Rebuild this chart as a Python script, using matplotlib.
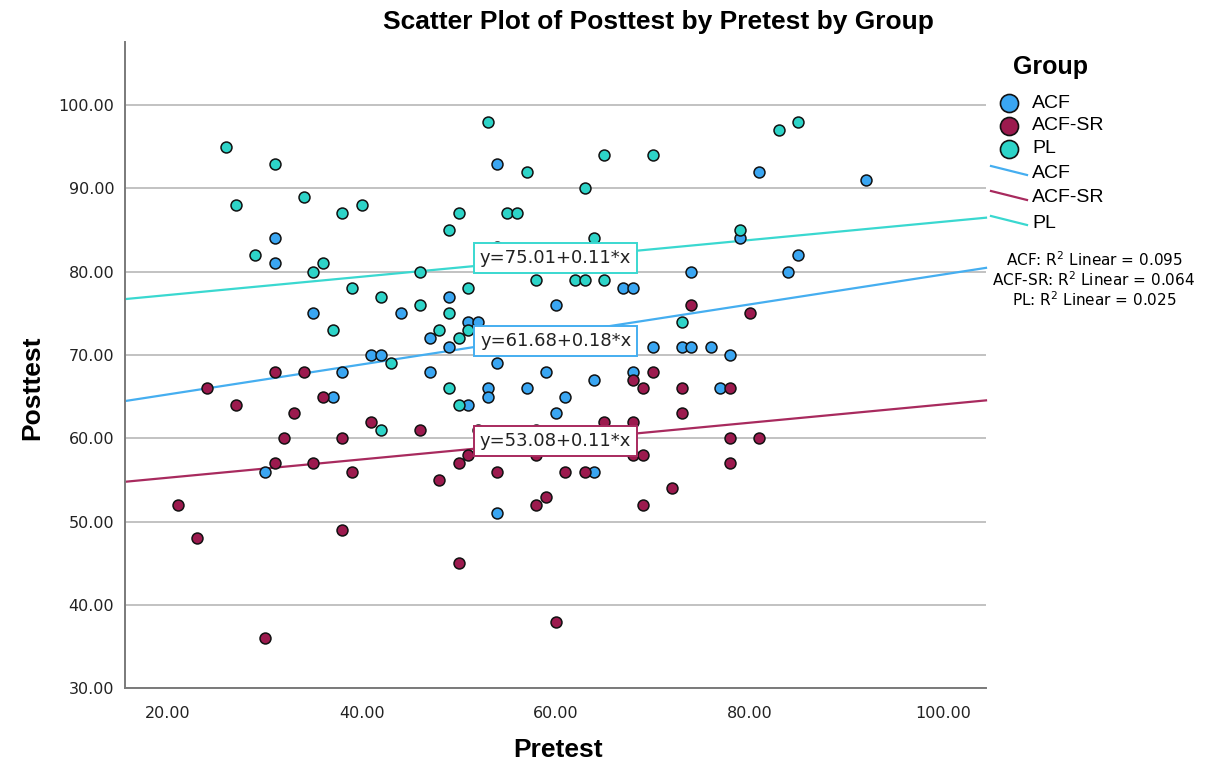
import matplotlib
matplotlib.use('Agg')
import matplotlib.pyplot as plt
from matplotlib.lines import Line2D
from matplotlib.ticker import FormatStrFormatter
import numpy as np

W, H = 1217, 765

# ── Data ───────────────────────────────────────────────────────
groups = ['ACF', 'ACF-SR', 'PL']

acf_pre = [31, 31, 54, 54, 67, 68, 74, 49, 60, 81, 92, 79, 85, 84, 35, 44, 41, 42, 38, 37,
           30, 47, 49, 51, 52, 57, 70, 73, 74, 76, 78, 77, 54, 47, 59, 68, 64, 53, 53, 57,
           61, 51, 60, 64, 54]
acf_post = [84, 81, 93, 83, 78, 78, 80, 77, 76, 92, 91, 84, 82, 80, 75, 75, 70, 70, 68, 65,
            56, 72, 71, 74, 74, 71, 71, 71, 71, 71, 70, 66, 69, 68, 68, 68, 67, 66, 65, 66,
            65, 64, 63, 56, 51]

acfsr_pre = [74, 31, 34, 24, 36, 27, 33, 41, 46, 32, 38, 31, 35, 39, 21, 80, 70, 68, 69, 73,
             73, 65, 68, 52, 58, 51, 50, 58, 68, 69, 54, 61, 63, 48, 72, 59, 58, 69, 78, 78,
             81, 78, 23, 38, 30, 50, 60]
acfsr_post = [76, 68, 68, 66, 65, 64, 63, 62, 61, 60, 60, 57, 57, 56, 52, 75, 68, 67, 66, 66,
              63, 62, 62, 61, 61, 58, 57, 58, 58, 58, 56, 56, 56, 55, 54, 53, 52, 52, 66, 60,
              60, 57, 48, 49, 36, 45, 38]

pl_pre = [26, 31, 27, 34, 38, 40, 29, 35, 36, 46, 39, 42, 46, 53, 57, 65, 70, 63, 50, 49,
          55, 56, 64, 58, 62, 63, 65, 51, 83, 85, 79, 37, 43, 42, 49, 48, 50, 51, 73, 49, 50]
pl_post = [95, 93, 88, 89, 87, 88, 82, 80, 81, 80, 78, 77, 76, 98, 92, 94, 94, 90, 87, 85,
           87, 87, 84, 79, 79, 79, 79, 78, 97, 98, 85, 73, 69, 61, 75, 73, 72, 73, 74, 66, 64]

fit_intercepts = [61.68, 53.08, 75.01]
fit_slopes = [0.18, 0.11, 0.11]
r_squared = [0.095, 0.064, 0.025]

# ── Styling ────────────────────────────────────────────────────
DOT_CLR = ['#3AA6F2', '#9C1A4E', '#2DD4C8']
LINE_CLR = ['#45AEF0', '#A82A5E', '#3AD8D0']
GRID_CLR = '#C2C2C2'
SPINE_CLR = '#7A7A7A'
TXT_CLR = '#222222'
SANS = 'Liberation Sans'


def fxy(px, py):
    return px / W, 1 - py / H


fig = plt.figure(figsize=(W / 100, H / 100), dpi=100)
fig.patch.set_facecolor('white')

x0, x1, y0, y1 = 125.3, 986, 42.3, 688.3
ax = fig.add_axes([x0 / W, 1 - y1 / H, (x1 - x0) / W, (y1 - y0) / H])

ax.set_xlim(15.6, 104.4)
ax.set_ylim(30, 107.55)
ax.set_xticks([20, 40, 60, 80, 100])
ax.set_yticks(np.arange(30, 101, 10))
ax.xaxis.set_major_formatter(FormatStrFormatter('%.2f'))
ax.yaxis.set_major_formatter(FormatStrFormatter('%.2f'))
ax.tick_params(length=0, labelsize=11.5, labelcolor=TXT_CLR)
ax.tick_params(axis='x', pad=13)
ax.tick_params(axis='y', pad=8)

ax.grid(axis='y', color=GRID_CLR, lw=1.4)
ax.set_axisbelow(True)
for s in ['top', 'right']:
    ax.spines[s].set_visible(False)
for s in ['left', 'bottom']:
    ax.spines[s].set_color(SPINE_CLR)
    ax.spines[s].set_linewidth(1.4)

pre = [acf_pre, acfsr_pre, pl_pre]
post = [acf_post, acfsr_post, pl_post]

# fit lines across the whole axis
xs = np.array(ax.get_xlim())
for i in range(3):
    a, b = fit_intercepts[i], fit_slopes[i]
    ax.plot(xs, a + b * xs, color=LINE_CLR[i], lw=1.6, zorder=2, clip_on=False)

for i in range(3):
    ax.scatter(pre[i], post[i], s=62, c=DOT_CLR[i], edgecolors='#111111',
               linewidths=1.1, zorder=3)

# equation labels, placed on each line near x = 60
label_x = [55.7, 60, 60]
for i in range(3):
    a, b = fit_intercepts[i], fit_slopes[i]
    ax.text(60, a + b * label_x[i], f'y={a:.2f}+{b:.2f}*x', ha='center', va='center',
            fontsize=13, color=TXT_CLR, zorder=5,
            bbox=dict(boxstyle='square,pad=0.33', fc='white', ec=LINE_CLR[i], lw=1.4))

# titles
fig.text(*fxy(658, 22), 'Scatter Plot of Posttest by Pretest by Group', ha='center',
         va='center', fontsize=19, fontweight='bold', family=SANS, color='black')
ax.set_xlabel('Pretest', fontsize=19, fontweight='bold', family=SANS)
ax.xaxis.label.set_va('center')
ax.xaxis.set_label_coords((558 - x0) / (x1 - x0), (y1 - 750) / (y1 - y0))
ax.set_ylabel('Posttest', fontsize=19, fontweight='bold', family=SANS)
ax.yaxis.label.set_va('center')
ax.yaxis.set_label_coords((32 - x0) / (x1 - x0), (y1 - 388) / (y1 - y0))

# ── Legend (drawn by hand, SPSS style) ─────────────────────────
fig.text(*fxy(1050, 67), 'Group', ha='center', va='center', fontsize=18,
         fontweight='bold', family=SANS)
mark_y = [103, 126, 148.5]
line_y = [173, 198, 223]
r2_y = [260, 280, 300]
for i, g in enumerate(groups):
    mx, my = fxy(1008.5, mark_y[i])
    fig.add_artist(Line2D([mx], [my], marker='o', ms=13, mfc=DOT_CLR[i], mec='#111111',
                          mew=1.2, ls='none', transform=fig.transFigure))
    fig.text(*fxy(1032, mark_y[i]), g, ha='left', va='center', fontsize=14, family=SANS)

    lx0, ly0 = fxy(991, line_y[i] - 7)
    lx1, ly1 = fxy(1027, line_y[i] + 2)
    fig.add_artist(Line2D([lx0, lx1], [ly0, ly1], color=LINE_CLR[i], lw=1.6,
                          transform=fig.transFigure))
    fig.text(*fxy(1032, line_y[i]), g, ha='left', va='center', fontsize=14, family=SANS)

    fig.text(*fxy(1094, r2_y[i]), f'{g}: R$^2$ Linear = {r_squared[i]:.3f}', ha='center',
             va='center', fontsize=11, family='DejaVu Sans')

fig.savefig('out.png', dpi=100, facecolor='white')
